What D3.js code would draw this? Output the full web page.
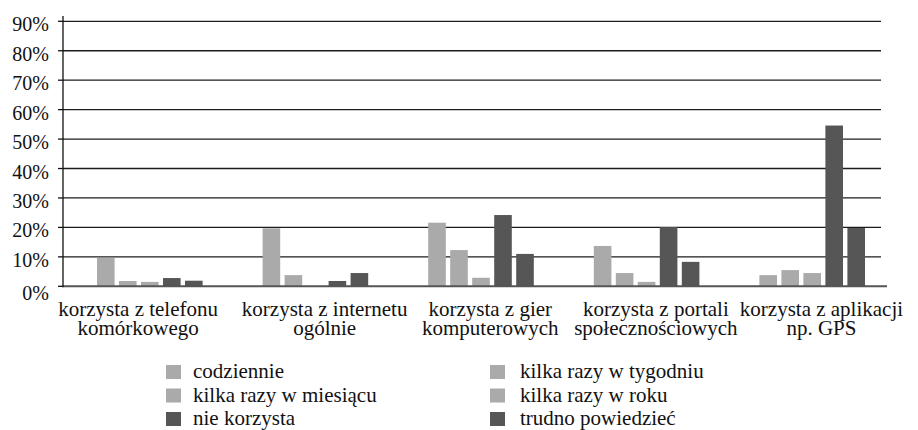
<!DOCTYPE html>
<html>
<head>
<meta charset="utf-8">
<script src="https://cdn.jsdelivr.net/npm/d3@7"></script>
<style>
  body { margin: 0; background: #fff; }
  svg { display: block; }
  text { font-family: "Liberation Serif", "Times New Roman", Times, serif; fill: #111; }
  .tick-label { font-size: 20px; }
  .cat-label { font-size: 21px; }
  .legend-label { font-size: 21px; }
</style>
</head>
<body>
<svg id="chart" width="918" height="430"></svg>
<script>
const categories = [
  ["korzysta z telefonu", "komórkowego"],
  ["korzysta z internetu", "ogólnie"],
  ["korzysta z gier", "komputerowych"],
  ["korzysta z portali", "społecznościowych"],
  ["korzysta z aplikacji", "np. GPS"]
];
const series = [
  "codziennie",
  "kilka razy w tygodniu",
  "kilka razy w miesiącu",
  "kilka razy w roku",
  "nie korzysta",
  "trudno powiedzieć"
];
const seriesColors = ["#aaaaaa", "#aaaaaa", "#aaaaaa", "#aaaaaa", "#565656", "#565656"];
// percent values per category, same order as series
const codziennie = [0, 0, 0, 0, 0];
const tygodniu = [9.6, 19.7, 21.6, 13.7, 3.8];
const miesiacu = [1.8, 3.8, 12.3, 4.5, 5.5];
const roku = [1.5, 0, 2.9, 1.5, 4.5];
const nieKorzysta = [2.8, 1.8, 24.2, 20.1, 54.6];
const trudno = [1.9, 4.5, 11.0, 8.3, 19.8];
const yTicks = [0, 10, 20, 30, 40, 50, 60, 70, 80, 90];

const values = [codziennie, tygodniu, miesiacu, roku, nieKorzysta, trudno];

const svg = d3.select("#chart");
const plotLeft = 63;
const plotRight = 891;
const plotTop = 21.3;
const plotBottom = 286.3;

const x0 = d3.scaleBand().domain(d3.range(categories.length)).range([plotLeft, plotRight]);
const x1 = d3.scaleBand().domain(d3.range(series.length)).range([12, 144]);
const y = d3.scaleLinear().domain([0, 90]).range([plotBottom, plotTop]);
const barWidth = x1.bandwidth() * 0.8;

// gridlines
svg.append("g")
  .selectAll("line")
  .data(yTicks.filter((d) => d > 0))
  .join("line")
  .attr("x1", plotLeft)
  .attr("x2", 881)
  .attr("y1", (d) => y(d))
  .attr("y2", (d) => y(d))
  .attr("stroke", "#1c1c1c")
  .attr("stroke-width", 1.3);

// bars
const rows = [];
categories.forEach((c, ci) => {
  series.forEach((s, si) => rows.push({ ci, si, v: values[si][ci] }));
});

svg.append("g")
  .selectAll("rect")
  .data(rows.filter((d) => d.v > 0))
  .join("rect")
  .attr("x", (d) => x0(d.ci) + x1(d.si))
  .attr("y", (d) => y(d.v))
  .attr("width", barWidth)
  .attr("height", (d) => plotBottom - y(d.v))
  .attr("fill", (d) => seriesColors[d.si]);

// baseline and y axis
svg.append("line")
  .attr("x1", plotLeft).attr("x2", 887)
  .attr("y1", plotBottom).attr("y2", plotBottom)
  .attr("stroke", "#555").attr("stroke-width", 2);

svg.append("line")
  .attr("x1", plotLeft).attr("x2", plotLeft)
  .attr("y1", 16).attr("y2", plotBottom + 1)
  .attr("stroke", "#111").attr("stroke-width", 1.3);

const ticks = svg.append("g");
ticks.selectAll("line")
  .data(yTicks)
  .join("line")
  .attr("x1", plotLeft - 5)
  .attr("x2", plotLeft)
  .attr("y1", (d) => y(d))
  .attr("y2", (d) => y(d))
  .attr("stroke", "#111")
  .attr("stroke-width", 1.3);

ticks.selectAll("text")
  .data(yTicks)
  .join("text")
  .attr("class", "tick-label")
  .attr("x", 49)
  .attr("y", (d) => y(d) + (d === 0 ? 7 : 3))
  .attr("dy", "0.35em")
  .attr("text-anchor", "end")
  .text((d) => d + "%");

// category labels, two lines each; the first one sits flush with the axis
const catGroup = svg.append("g")
  .selectAll("text")
  .data(categories)
  .join("text")
  .attr("class", "cat-label")
  .attr("text-anchor", "middle");

catGroup.each(function (lines, i) {
  const t = d3.select(this);
  lines.forEach((line, li) => {
    t.append("tspan").attr("x", 0).attr("y", 316 + li * 18.5).text(line);
  });
  const w = this.getBBox().width;
  const cx = i === 0
    ? plotLeft - 5 + w / 2
    : x0(i) + x0.bandwidth() * 0.58;
  t.selectAll("tspan").attr("x", cx);
});

// legend
const legend = svg.append("g")
  .selectAll("g")
  .data(series)
  .join("g")
  .attr("transform", (d, i) => `translate(${i % 2 === 0 ? 166 : 490},${372 + Math.floor(i / 2) * 23.5})`);

legend.append("rect")
  .attr("x", 0)
  .attr("y", -7)
  .attr("width", 15)
  .attr("height", 14)
  .attr("fill", (d, i) => seriesColors[i]);

legend.append("text")
  .attr("class", "legend-label")
  .attr("x", (d, i) => (i % 2 === 0 ? 27 : 30))
  .attr("y", 0)
  .attr("dy", "0.3em")
  .text((d) => d);
</script>
</body>
</html>
